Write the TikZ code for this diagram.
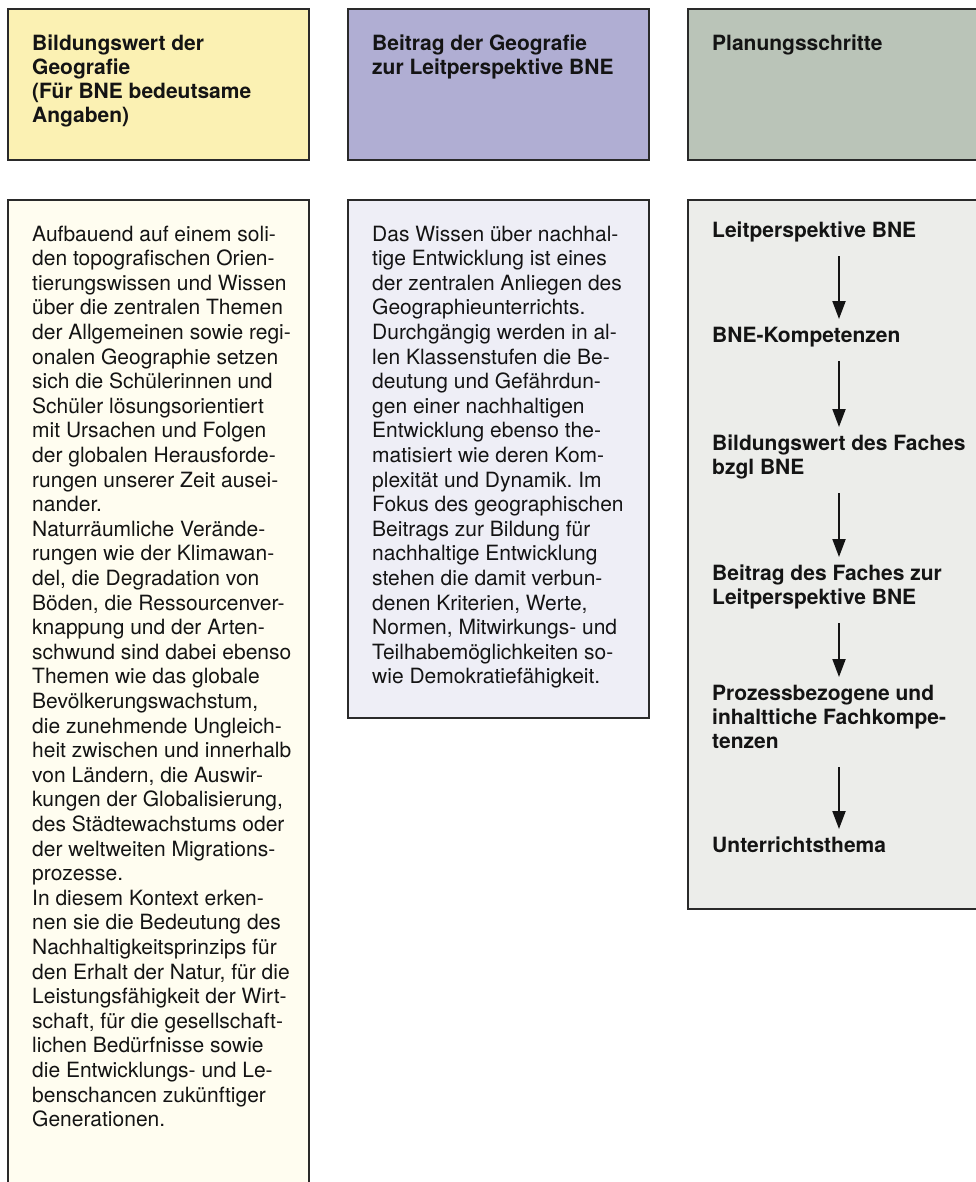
\documentclass[tikz,border=0pt]{standalone}
\usepackage{fontspec}
\setmainfont{TeX Gyre Heros}
\usetikzlibrary{arrows.meta}
\frenchspacing

\definecolor{ink}{HTML}{141414}
\definecolor{boxline}{HTML}{2A2A2A}
\definecolor{headA}{HTML}{FBF1B3}
\definecolor{headB}{HTML}{B0AED3}
\definecolor{headC}{HTML}{BAC4B8}
\definecolor{bodyA}{HTML}{FFFDF0}
\definecolor{bodyB}{HTML}{EEEEF6}
\definecolor{bodyC}{HTML}{ECEDEA}

\begin{document}
\begin{tikzpicture}[x=1pt,y=-1pt,
  frame/.style={draw=boxline, line width=1.3pt},
  % multi-line nodes are placed by the baseline of their last line
  head/.style={anchor=base west, align=left, inner sep=0pt, text=ink,
    font=\fontsize{21}{24}\selectfont\bfseries},
  body/.style={anchor=base west, align=left, inner sep=0pt, text=ink,
    font=\fontsize{21}{24.6}\selectfont},
  stepitem/.style={anchor=base west, align=left, inner sep=0pt, text=ink,
    font=\fontsize{21}{24}\selectfont\bfseries},
  flow/.style={draw=ink, line width=2pt, -{Triangle[width=13pt,length=18pt]},
    shorten <=12pt, shorten >=6pt}
]
\useasboundingbox (0,0) rectangle (976,1182);
\clip (0,0) rectangle (976,1182);

% column headers
\draw[frame, fill=headA] (8,9) rectangle (309,160);
\draw[frame, fill=headB] (348,9) rectangle (649,160);
\draw[frame, fill=headC] (688,9) rectangle (992,160);

% column bodies
\draw[frame, fill=bodyA] (8,200) rectangle (309,1200);
\draw[frame, fill=bodyB] (348,200) rectangle (649,718);
\draw[frame, fill=bodyC] (688,200) rectangle (992,909);

\node[head] (hA) at (32,123) {Bildungswert der\\Geografie\\(Für BNE bedeutsame\\Angaben)};
\node[head] (hB) at (372,75) {Beitrag der Geografie\\zur Leitperspektive BNE};
\node[head] (hC) at (712,51) {Planungsschritte};

\node[body] (tA) at (32,1126.6) {Aufbauend auf einem soli-\\
den topografischen Orien-\\
tierungswissen und Wissen\\
über die zentralen Themen\\
der Allgemeinen sowie regi-\\
onalen Geographie setzen\\
sich die Schülerinnen und\\
Schüler lösungsorientiert\\
mit Ursachen und Folgen\\
der globalen Herausforde-\\
rungen unserer Zeit ausei-\\
nander.\\
Naturräumliche Verände-\\
rungen wie der Klimawan-\\
del, die Degradation von\\
Böden, die Ressourcenver-\\
knappung und der Arten-\\
schwund sind dabei ebenso\\
Themen wie das globale\\
Bevölkerungswachstum,\\
die zunehmende Ungleich-\\
heit zwischen und innerhalb\\
von Ländern, die Auswir-\\
kungen der Globalisierung,\\
des Städtewachstums oder\\
der weltweiten Migrations-\\
prozesse.\\
In diesem Kontext erken-\\
nen sie die Bedeutung des\\
Nachhaltigkeitsprinzips für\\
den Erhalt der Natur, für die\\
Leistungsfähigkeit der Wirt-\\
schaft, für die gesellschaft-\\
lichen Bedürfnisse sowie\\
die Entwicklungs- und Le-\\
benschancen zukünftiger\\
Generationen.};

\node[body] (tB) at (372,683.8) {Das Wissen über nachhal-\\
tige Entwicklung ist eines\\
der zentralen Anliegen des\\
Geographieunterrichts.\\
Durchgängig werden in al-\\
len Klassenstufen die Be-\\
deutung und Gefährdun-\\
gen einer nachhaltigen\\
Entwicklung ebenso the-\\
matisiert wie deren Kom-\\
plexität und Dynamik. Im\\
Fokus des geographischen\\
Beitrags zur Bildung für\\
nachhaltige Entwicklung\\
stehen die damit verbun-\\
denen Kriterien, Werte,\\
Normen, Mitwirkungs- und\\
Teilhabemöglichkeiten so-\\
wie Demokratiefähigkeit.};

% planning steps, each placed by its last baseline
\coordinate (axis) at (839,0);
\node[stepitem] (s1) at (712,237) {\strut Leitperspektive BNE\strut};
\node[stepitem] (s2) at (712,342) {\strut BNE-Kompetenzen\strut};
\node[stepitem] (s3) at (712,474) {\strut Bildungswert des Faches\\bzgl BNE\strut};
\node[stepitem] (s4) at (712,604) {\strut Beitrag des Faches zur\\Leitperspektive BNE\strut};
\node[stepitem] (s5) at (712,748) {\strut Prozessbezogene und\\inhalttiche Fachkompe-\\tenzen\strut};
\node[stepitem] (s6) at (712,852) {\strut Unterrichtsthema\strut};

\draw[flow] (s1.south -| axis) -- (s2.north -| axis);
\draw[flow] (s2.south -| axis) -- (s3.north -| axis);
\draw[flow] (s3.south -| axis) -- (s4.north -| axis);
\draw[flow] (s4.south -| axis) -- (s5.north -| axis);
\draw[flow] (s5.south -| axis) -- (s6.north -| axis);
\end{tikzpicture}
\end{document}
